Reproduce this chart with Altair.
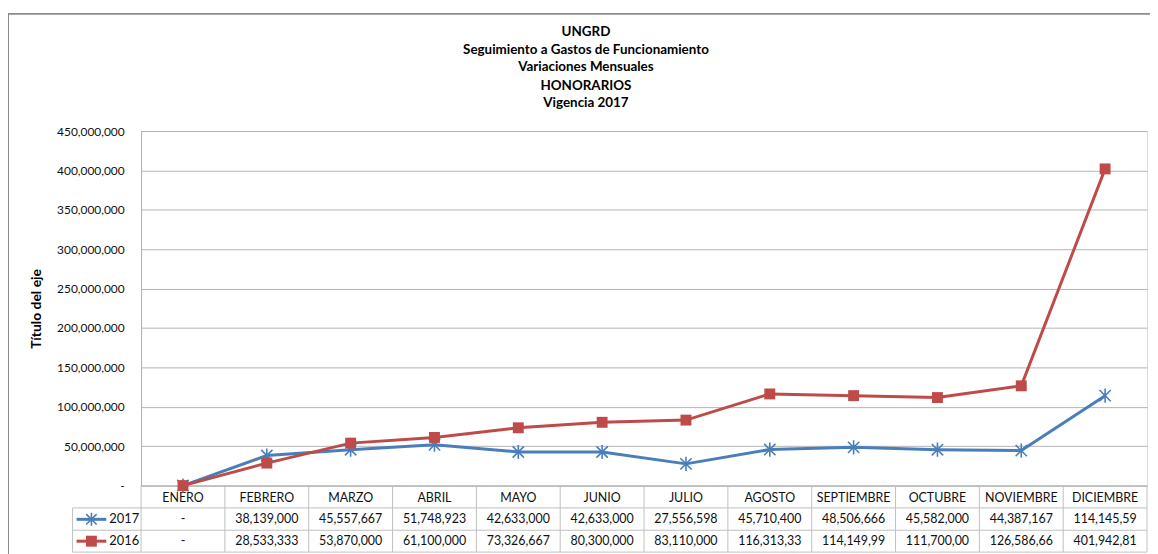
import altair as alt
import pandas as pd

meses = ["ENERO", "FEBRERO", "MARZO", "ABRIL", "MAYO", "JUNIO", "JULIO",
         "AGOSTO", "SEPTIEMBRE", "OCTUBRE", "NOVIEMBRE", "DICIEMBRE"]
v2017 = [0, 38139000, 45557667, 51748923, 42633000, 42633000, 27556598,
         45710400, 48506666, 45582000, 44387167, 114145590]
v2016 = [0, 28533333, 53870000, 61100000, 73326667, 80300000, 83110000,
         116313333, 114149999, 111700000, 126586667, 401942810]
series = ["2017", "2016"]
titulo = ["UNGRD", "Seguimiento a Gastos de Funcionamiento",
          "Variaciones Mensuales", "HONORARIOS", "Vigencia 2017"]
y_ticks = [0, 50000000, 100000000, 150000000, 200000000, 250000000,
           300000000, 350000000, 400000000, 450000000]

BLUE = "#4A7EBB"
RED = "#BE4B48"
GRID = "#B3B3B3"
FONT = "Lato"
W, H = 1013, 357
STAR = "M-1,-1L1,1M-1,1L1,-1M0,-1.25L0,1.25"

rows = []
for s, vals in zip(series, [v2017, v2016]):
    for m, v in zip(meses, vals):
        rows.append({"mes": m, "serie": s, "valor": v})
df = pd.DataFrame(rows)
df_mes = pd.DataFrame({"mes": meses})

xscale = alt.Scale(type="band", domain=meses, paddingInner=0, paddingOuter=0)
yscale = alt.Scale(domain=[0, 450000000], nice=False)

yaxis = alt.Axis(
    values=y_ticks, grid=True, gridColor=GRID, gridWidth=1, labelOverlap=False,
    domain=True, domainColor=GRID, ticks=False, tickSize=0,
    labelPadding=17, labelFont=FONT, labelFontSize=12, labelColor="#111",
    labelFontWeight="normal",
    labelExpr="datum.value == 0 ? '-' : format(datum.value, ',')",
    title="Título del eje", titleFont=FONT, titleFontSize=14,
    titleFontWeight="bold", titleColor="#000", titleAngle=-90,
    titleX=-105, titleY=H / 2, titleAlign="center", titleBaseline="middle",
)
xaxis = alt.Axis(
    title=None, domain=True, domainColor=GRID, ticks=False, tickSize=0,
    grid=False, labelFont=FONT, labelFontSize=12.5, labelColor="#111",
    labelFontWeight="normal", labelOverlap=False,
    labelPadding=12, labelBaseline="middle", labelAngle=0,
)


def X(pos=0.5):
    return alt.X("mes:N", scale=xscale, bandPosition=pos, axis=xaxis)


def Y():
    return alt.Y("valor:Q", scale=yscale, axis=yaxis)


color = alt.Color("serie:N", scale=alt.Scale(domain=series, range=[BLUE, RED]),
                  legend=None)

base = alt.Chart(df)

lines = base.mark_line(strokeWidth=3).encode(x=X(), y=Y(), color=color)
stars = base.transform_filter("datum.serie == '2017'").mark_point(
    shape=STAR, size=130, strokeWidth=1.6, filled=False, opacity=1
).encode(x=X(), y=Y(), color=color)
squares = base.transform_filter("datum.serie == '2016'").mark_point(
    shape="square", size=121, filled=True, opacity=1
).encode(x=X(), y=Y(), color=color)

# ---- data table below the plot ----
TAB = "#BFBFBF"
row_y = {"2017": 391, "2016": 413}
table_layers = []
for s in series:
    table_layers.append(
        base.transform_filter(f"datum.serie == '{s}'")
        .transform_calculate(
            txt="datum.valor == 0 ? '-' : substring(format(datum.valor, ','), 0, 10)")
        .mark_text(font=FONT, fontSize=12.5, color="#111", baseline="middle")
        .encode(x=X(), y=alt.value(row_y[s]), text="txt:N")
    )

vlines = alt.Chart(df_mes).mark_rule(color=TAB, strokeWidth=1).encode(
    x=X(0), y=alt.value(H), y2=alt.value(424))
one = alt.Chart(df_mes).transform_filter("datum.mes == 'ENERO'")
vend = one.mark_rule(color=TAB, strokeWidth=1).encode(
    x=alt.value(W), y=alt.value(H), y2=alt.value(424))
hlines = []
for yy in [379.5, 402, 424]:
    hlines.append(one.mark_rule(color=TAB, strokeWidth=1).encode(
        x=alt.value(-69), x2=alt.value(W), y=alt.value(yy)))
vleg = one.mark_rule(color=TAB, strokeWidth=1).encode(
    x=alt.value(-69), y=alt.value(379.5), y2=alt.value(424))

# legend keys inside the table
leg_layers = []
for s, c in zip(series, [BLUE, RED]):
    sub = base.transform_filter(f"datum.serie == '{s}' && datum.mes == 'ENERO'")
    leg_layers.append(sub.mark_rule(color=c, strokeWidth=3).encode(
        x=alt.value(-65), x2=alt.value(-35), y=alt.value(row_y[s])))
    if s == "2017":
        leg_layers.append(sub.mark_point(shape=STAR, size=110, strokeWidth=1.6,
                                         filled=False, color=c, opacity=1).encode(
            x=alt.value(-50), y=alt.value(row_y[s])))
    else:
        leg_layers.append(sub.mark_point(shape="square", size=121, filled=True,
                                         color=c, opacity=1).encode(
            x=alt.value(-50), y=alt.value(row_y[s])))
    leg_layers.append(sub.mark_text(font=FONT, fontSize=13, color="#111",
                                    align="left", baseline="middle").encode(
        x=alt.value(-32), y=alt.value(row_y[s]), text="serie:N"))

# ---- title lines ----
title_y = [-100, -82, -64, -45, -28]
title_layers = []
for t, yy in zip(titulo, title_y):
    title_layers.append(one.mark_text(font=FONT, fontSize=13.5, fontWeight="bold",
                                      color="#000", baseline="middle", align="center")
                        .encode(x=alt.value(448), y=alt.value(yy), text=alt.value(t)))

# ---- outer frame ----
frame = [
    one.mark_rule(color="#8C8C8C", strokeWidth=2).encode(
        x=alt.value(-134), y=alt.value(-119), y2=alt.value(440)),
    one.mark_rule(color="#8C8C8C", strokeWidth=2).encode(
        x=alt.value(-135), x2=alt.value(W + 20), y=alt.value(-118)),
]

chart = alt.layer(
    *frame, *title_layers, vlines, vend, *hlines, vleg,
    lines, stars, squares, *table_layers, *leg_layers,
).properties(
    width=W, height=H,
    autosize=alt.AutoSizeParams(type="none"),
    padding={"left": 134, "top": 122, "right": 3, "bottom": 67},
).configure_view(stroke=None).configure(background="white")

chart.save("out.html", embed_options={"renderer": "svg", "actions": False})
